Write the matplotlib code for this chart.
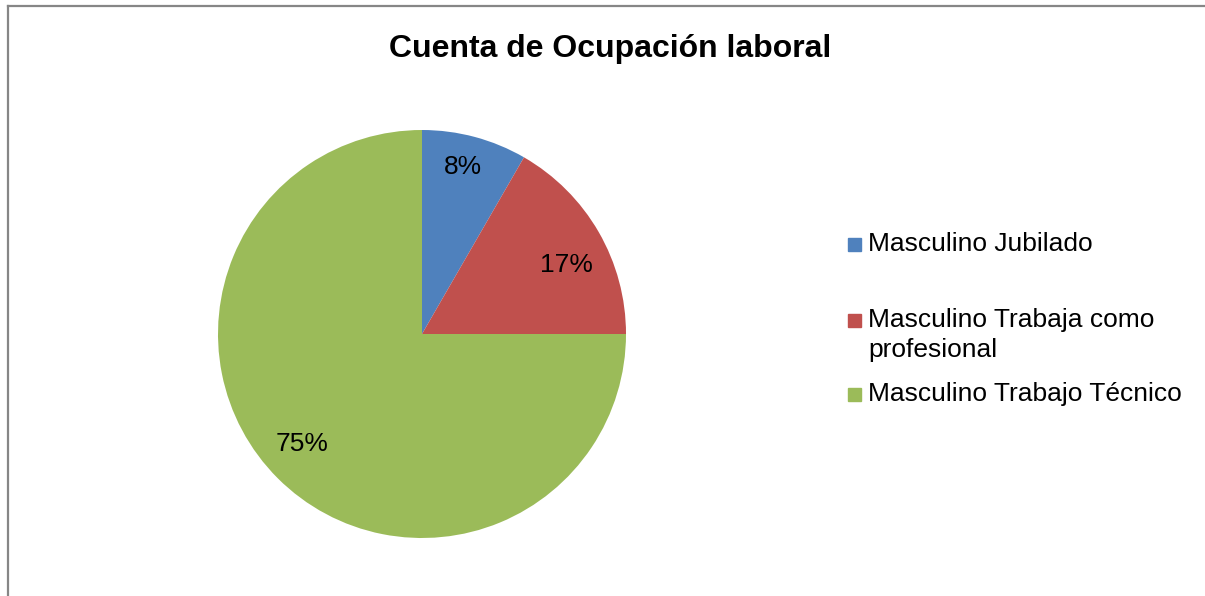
import matplotlib
matplotlib.use("Agg")
import matplotlib.pyplot as plt
import matplotlib.patches as mp
from matplotlib.lines import Line2D

plt.rcParams['font.family'] = ['Liberation Sans', 'DejaVu Sans']

# datos del grafico
CATEGORIAS = ["Masculino Jubilado", "Masculino Trabaja como\nprofesional", "Masculino Trabajo Técnico"]
CUENTAS = [1, 2, 9]
COLORES = ["#4F81BD", "#C0504D", "#9BBB59"]
TITULO = "Cuenta de Ocupación laboral"

W, H = 1205, 596
fig = plt.figure(figsize=(W / 100, H / 100), dpi=100)

# pie centred at (422, 334) px with radius 204 px
cx, cy, r = 422, 334, 204
ax = fig.add_axes([(cx - r) / W, (H - cy - r) / H, 2 * r / W, 2 * r / H])
wedges, textos, pcts = ax.pie(CUENTAS, colors=COLORES, startangle=90, counterclock=False,
                              autopct=lambda p: "%d%%" % round(p), pctdistance=0.82,
                              wedgeprops=dict(linewidth=0),
                              textprops=dict(fontsize=19, color="black"))
# Excel "best fit" places the labels a bit off the radial midpoint
pos_etiquetas = [(0.20, 0.82), (0.71, 0.34), (-0.59, -0.54)]
for t, p in zip(pcts, pos_etiquetas):
    t.set_position(p)
ax.set_xlim(-1, 1)
ax.set_ylim(-1, 1)
ax.set_aspect("equal")
ax.axis("off")

fig.text(610 / W, 1 - 48.5 / H, TITULO, ha="center", va="center", fontsize=23, fontweight="bold")

# leyenda manual: el cuadro va a la altura de la primera linea
ley_y = [244, 320, 394]
for cat, col, yy in zip(CATEGORIAS, COLORES, ley_y):
    fig.add_artist(mp.Rectangle((848 / W, 1 - (yy + 7) / H), 13 / W, 13 / H,
                                color=col, transform=fig.transFigure))
    fig.text(868 / W, 1 - (yy - 12) / H, cat, ha="left", va="top", fontsize=19,
             linespacing=1.3)

# marco gris del area del grafico
fig.add_artist(Line2D([8 / W, 8 / W], [0, 1 - 6 / H], color="#868686", lw=1.6,
                      transform=fig.transFigure))
fig.add_artist(Line2D([8 / W, 1], [1 - 6 / H, 1 - 6 / H], color="#868686", lw=1.6,
                      transform=fig.transFigure))

fig.savefig("out.png", dpi=100)
